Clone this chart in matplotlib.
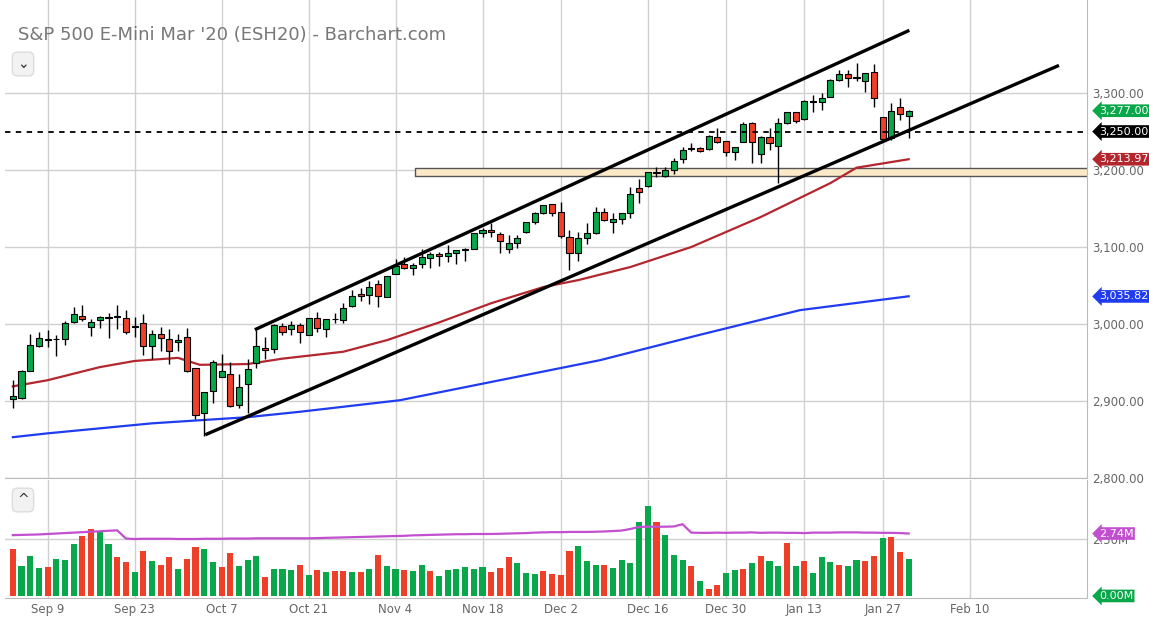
import matplotlib
matplotlib.use('agg')
import matplotlib.pyplot as plt
import numpy as np

# daily OHLC (index 0 = Sep 3 2019, last = Jan 30 2020)
opens = [2902.1, 2903.4, 2938.9, 2971.0, 2979.6, 2980.0, 2980.0, 3003.0, 3010.0, 2996.5,
         3004.7, 3008.2, 3009.5, 3007.3, 2996.5, 3000.8, 2971.4, 2986.5, 2980.0, 2976.2,
         2983.5, 2942.4, 2883.9, 2912.9, 2930.7, 2934.6, 2894.8, 2921.6, 2948.9, 2968.4,
         2967.0, 2997.8, 2993.0, 2998.7, 2985.3, 3007.3, 2993.5, 3006.0, 3005.2, 3023.4,
         3038.5, 3037.2, 3051.5, 3035.5, 3064.5, 3077.5, 3072.3, 3077.5, 3086.2, 3090.5,
         3087.9, 3091.8, 3096.1, 3097.0, 3118.6, 3122.1, 3116.4, 3097.0, 3104.7, 3119.0,
         3132.0, 3143.7, 3155.4, 3145.9, 3113.4, 3091.8, 3111.2, 3117.7, 3145.8, 3132.9,
         3135.9, 3143.7, 3176.2, 3179.2, 3196.5, 3192.6, 3200.0, 3213.8, 3227.2, 3228.1,
         3226.8, 3243.2, 3238.0, 3222.9, 3236.8, 3261.4, 3220.7, 3243.2, 3231.6, 3260.6,
         3274.8, 3265.8, 3288.7, 3287.8, 3294.3, 3316.8, 3324.2, 3319.9, 3316.0, 3326.8,
         3269.2, 3241.1, 3281.3, 3270.5]
highs = [2927.2, 2940.2, 2987.0, 2990.0, 2992.2, 2985.7, 3004.0, 3022.5, 3024.6, 3006.5,
         3010.3, 3014.7, 3024.6, 3018.1, 3009.5, 3013.0, 2992.2, 2996.5, 2993.5, 2987.0,
         2994.3, 2942.4, 2912.0, 2953.2, 2961.0, 2950.2, 2934.6, 2954.1, 2992.2, 2982.6,
         3000.0, 3000.8, 3003.5, 3001.7, 3007.3, 3015.1, 3006.0, 3014.7, 3026.8, 3044.1,
         3046.3, 3055.8, 3057.1, 3062.8, 3084.4, 3086.6, 3078.8, 3097.4, 3093.9, 3093.0,
         3102.6, 3095.7, 3099.1, 3118.6, 3125.1, 3130.7, 3119.9, 3115.6, 3115.6, 3132.9,
         3145.0, 3154.5, 3155.4, 3158.0, 3122.1, 3119.9, 3130.7, 3152.3, 3150.2, 3143.7,
         3143.7, 3178.3, 3188.3, 3197.8, 3203.4, 3204.3, 3215.1, 3230.3, 3234.6, 3229.4,
         3245.4, 3254.1, 3238.0, 3230.3, 3262.7, 3262.7, 3244.1, 3254.1, 3267.0, 3275.7,
         3275.7, 3290.9, 3297.4, 3299.5, 3317.7, 3329.8, 3329.8, 3338.5, 3326.4, 3337.6,
         3269.2, 3286.5, 3293.0, 3277.9]
lows = [2890.4, 2903.0, 2938.9, 2970.0, 2970.5, 2958.8, 2973.0, 3001.7, 3004.3, 2984.8,
        2995.2, 2982.2, 2993.0, 2986.5, 2983.5, 2959.7, 2954.5, 2965.3, 2947.6, 2965.3,
        2938.0, 2876.1, 2854.5, 2897.8, 2930.7, 2892.6, 2890.4, 2884.0, 2943.2, 2954.5,
        2962.0, 2985.7, 2985.7, 2975.7, 2985.3, 2990.0, 2983.5, 3000.8, 3001.7, 3021.6,
        3030.3, 3025.5, 3021.6, 3034.6, 3064.5, 3071.0, 3063.6, 3072.3, 3073.1, 3075.7,
        3080.9, 3077.5, 3082.2, 3097.0, 3112.5, 3113.4, 3091.8, 3092.6, 3099.1, 3117.7,
        3129.9, 3142.4, 3140.7, 3111.2, 3070.1, 3081.8, 3103.9, 3116.9, 3133.7, 3117.7,
        3129.8, 3138.1, 3157.5, 3178.3, 3191.3, 3191.0, 3194.8, 3209.5, 3225.0, 3223.8,
        3225.9, 3234.6, 3218.1, 3213.0, 3235.9, 3208.6, 3209.5, 3225.9, 3182.6, 3259.3,
        3261.4, 3264.9, 3275.7, 3277.9, 3294.3, 3316.0, 3308.2, 3316.0, 3301.7, 3281.3,
        3238.1, 3239.0, 3264.9, 3241.1]
closes = [2906.4, 2938.9, 2972.3, 2981.3, 2980.0, 2980.5, 3001.7, 3013.0, 3006.9, 3002.1,
          3008.6, 3008.2, 3009.5, 2990.0, 2996.5, 2971.4, 2986.5, 2981.3, 2964.9, 2979.2,
          2938.9, 2881.8, 2912.0, 2951.0, 2938.9, 2893.5, 2918.6, 2941.1, 2971.4, 2965.8,
          2998.7, 2990.0, 2998.7, 2989.2, 3007.3, 2994.4, 3006.0, 3006.0, 3020.3, 3036.8,
          3036.0, 3047.6, 3036.3, 3062.8, 3075.3, 3072.3, 3076.6, 3086.6, 3090.5, 3087.9,
          3091.8, 3095.7, 3096.1, 3118.6, 3122.1, 3119.0, 3108.2, 3104.7, 3111.2, 3132.9,
          3143.7, 3154.5, 3143.7, 3114.3, 3091.8, 3111.2, 3117.7, 3145.8, 3135.0, 3135.9,
          3143.7, 3168.4, 3171.8, 3197.8, 3196.5, 3200.0, 3211.6, 3225.9, 3227.2, 3225.1,
          3244.5, 3236.8, 3222.9, 3230.3, 3259.7, 3235.9, 3243.2, 3234.6, 3260.6, 3275.7,
          3263.6, 3289.6, 3288.7, 3293.0, 3316.8, 3324.6, 3319.0, 3319.9, 3325.5, 3293.0,
          3239.8, 3277.0, 3272.3, 3276.6]

# volume in millions, colour per bar (G up / R down)
volume = [2.06, 1.32, 1.75, 1.23, 1.27, 1.62, 1.58, 2.28, 2.63, 2.95,
          2.81, 2.28, 1.71, 1.51, 1.07, 1.97, 1.54, 1.36, 1.71, 1.18,
          1.62, 2.15, 2.06, 1.49, 1.27, 1.89, 1.32, 1.58, 1.75, 0.83,
          1.18, 1.18, 1.14, 1.36, 0.92, 1.14, 1.05, 1.10, 1.10, 1.05,
          1.05, 1.18, 1.80, 1.32, 1.18, 1.14, 1.10, 1.36, 1.10, 0.88,
          1.14, 1.20, 1.27, 1.18, 1.27, 1.05, 1.23, 1.71, 1.45, 1.01,
          0.96, 1.10, 0.96, 0.92, 1.97, 2.19, 1.54, 1.36, 1.36, 1.23,
          1.58, 1.45, 3.25, 3.95, 3.25, 2.68, 1.80, 1.58, 1.32, 0.66,
          0.31, 0.48, 1.01, 1.14, 1.18, 1.45, 1.75, 1.54, 1.32, 2.32,
          1.32, 1.54, 1.01, 1.71, 1.49, 1.36, 1.32, 1.58, 1.54, 1.75,
          2.54, 2.59, 1.93, 1.62]
vol_dir = "RGGGRGGGRRGGRRGRGRRGRRGGRRGGGRGGGRGRGRRGRGRGGRGGRGGGGGGRRRGGGRRRRGGGRGGGGGRGGGRGRRGGRGRGGRGRGGGRGGRRGR"
vol_avg = [2.67, 2.68, 2.69, 2.70, 2.72, 2.74, 2.76, 2.78, 2.80, 2.82, 2.84, 2.86, 2.88, 2.52,
           2.50, 2.51, 2.51, 2.51, 2.51, 2.50, 2.50, 2.50, 2.51, 2.51, 2.51, 2.52, 2.52, 2.52,
           2.53, 2.53, 2.53, 2.53, 2.53, 2.53, 2.53,
           2.54, 2.55, 2.56, 2.57, 2.58, 2.59, 2.60, 2.61, 2.62, 2.63, 2.64, 2.66, 2.67, 2.68,
           2.69, 2.70, 2.71, 2.71, 2.72, 2.72, 2.72,
           2.73, 2.74, 2.75, 2.76, 2.78, 2.79, 2.80, 2.80, 2.81, 2.81, 2.81, 2.82, 2.83, 2.85, 2.87,
           2.94, 3.03, 3.04, 3.04, 3.04, 3.05, 3.15,
           2.78, 2.77, 2.77, 2.78, 2.77, 2.78, 2.78, 2.79, 2.77, 2.78, 2.78, 2.77, 2.77, 2.76,
           2.78, 2.78, 2.78, 2.79, 2.79, 2.79, 2.78, 2.78, 2.77, 2.77, 2.76, 2.74]

# moving averages read at a few bars
ma50_idx = [0, 4, 10, 14, 19, 21.5, 27, 31, 38, 43, 49, 55, 61, 65, 71, 78, 86, 94, 97, 103]
ma50_val = [2919, 2927, 2944, 2952, 2956, 2947, 2948, 2955, 2964, 2979, 3002, 3027, 3048, 3057,
            3074, 3100, 3139, 3183, 3203, 3214]
ma200_idx = [0, 4, 16, 27, 33, 44.5, 56, 67.5, 79, 90.5, 103]
ma200_val = [2853, 2858, 2871, 2879, 2886, 2901, 2927, 2953, 2986, 3018, 3036]

date_labels = ['Sep 9', 'Sep 23', 'Oct 7', 'Oct 21', 'Nov 4', 'Nov 18', 'Dec 2',
               'Dec 16', 'Dec 30', 'Jan 13', 'Jan 27', 'Feb 10']
date_idx = [4, 14, 24, 34, 44, 54, 63, 73, 82, 91, 100, 110]
price_ticks = [2800, 2900, 3000, 3100, 3200, 3300]

GREEN = '#08a84a'
RED = '#ee4028'
GRID = '#d0d0d0'
TXT = '#666666'

fig = plt.figure(figsize=(11.49, 6.23), dpi=100)
W, H = 1149, 623
ax = fig.add_axes([5 / W, 145 / H, 1082 / W, 478 / H])
axv = fig.add_axes([5 / W, 25 / H, 1082 / W, 118 / H])

n = len(closes)
x = np.arange(n)
o = np.array(opens); c = np.array(closes)
cols = [GREEN if cc >= oo else RED for oo, cc in zip(o, c)]
ax.vlines(x, lows, highs, color='black', lw=1, zorder=3)
body = np.maximum(np.abs(c - o), 0.8)
ax.bar(x, body, bottom=np.minimum(o, c), width=0.7, color=cols, edgecolor='black', lw=0.8, zorder=4)

ax.plot(ma50_idx, ma50_val, color='#b3262e', lw=1.6, zorder=2)
ax.plot(ma200_idx, ma200_val, color='#1f3cf0', lw=1.6, zorder=2)

# trend channel
ax.plot([28, 102.9], [2993.5, 3380.5], color='black', lw=2.4, zorder=5)
ax.plot([22.3, 120.1], [2857, 3335], color='black', lw=2.4, zorder=5)
ax.axhline(3250, color='black', lw=1.3, ls=(0, (3, 3)), zorder=5)
ax.fill_between([46.2, 125], 3192.2, 3202.6, facecolor='#fbe9c8', edgecolor='#555555', lw=1, zorder=1)

ax.set_xlim(-0.9, 123.5)
ax.set_ylim(2800, 3420.8)
axv.set_xlim(-0.9, 123.5)
axv.set_ylim(-0.09, 5.09)

for a in (ax, axv):
    a.set_xticks(date_idx)
    a.grid(True, color=GRID, lw=1)
    a.set_axisbelow(True)
    a.yaxis.tick_right()
    a.tick_params(length=0, colors=TXT, labelsize=8.5)
    for s in a.spines.values():
        s.set_visible(False)
    a.spines['right'].set_visible(True)
    a.spines['right'].set_color('#bbbbbb')
    a.spines['bottom'].set_visible(True)
    a.spines['bottom'].set_color('#bbbbbb')
ax.set_xticklabels([])
axv.set_xticklabels(date_labels)
ax.set_yticks(price_ticks)
ax.set_yticklabels([f'{p:,.2f}' for p in price_ticks])
axv.set_yticks([2.5])
axv.set_yticklabels(['2.50M'])

vx = np.arange(len(volume))
vcols = [GREEN if d == 'G' else RED for d in vol_dir]
axv.bar(vx, volume, width=0.7, color=vcols, zorder=3)
axv.plot(np.arange(len(vol_avg)), vol_avg, color='#c24fd0', lw=1.6, zorder=4)

def tag(a, y, s, col):
    a.text(1.011, y, s, transform=a.get_yaxis_transform(), color='white', fontsize=8,
           va='center', ha='left', zorder=10,
           bbox=dict(boxstyle='larrow,pad=0.12', fc=col, ec='none'))

tag(ax, 3277.0, '3,277.00', GREEN)
tag(ax, 3250.0, '3,250.00', 'black')
tag(ax, 3213.97, '3,213.97', '#b3262e')
tag(ax, 3035.82, '3,035.82', '#1f3cf0')
tag(axv, 2.74, '2.74M', '#c24fd0')
tag(axv, 0.0, '0.00M', GREEN)

fig.text(18 / W, 1 - 35 / H, "S&P 500 E-Mini Mar '20 (ESH20) - Barchart.com", color='#777777',
         fontsize=13, va='center')
for yy, s in [(64, '⌄'), (500, '^')]:
    fig.text(23 / W, 1 - yy / H, s, fontsize=10, ha='center', va='center', color='#333333',
             bbox=dict(boxstyle='round,pad=0.35', fc='#f2f2f2', ec='#dddddd'))

fig.savefig('out.png', dpi=100)
